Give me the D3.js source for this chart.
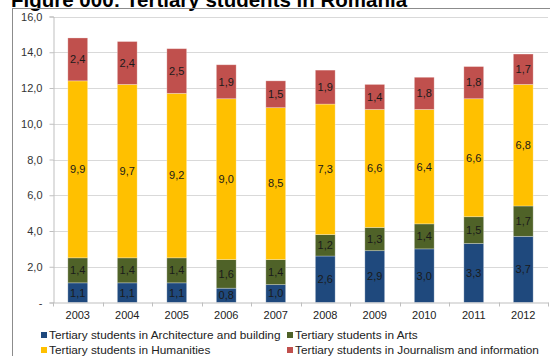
<!DOCTYPE html>
<html>
<head>
<meta charset="utf-8">
<script src="https://cdn.jsdelivr.net/npm/d3@7"></script>
<style>
html,body{margin:0;padding:0;background:#fff;}
svg{display:block;font-family:"Liberation Sans",Arial,sans-serif;}
</style>
</head>
<body>
<svg id="chart" width="550" height="356"></svg>
<script>
const years = ["2003","2004","2005","2006","2007","2008","2009","2010","2011","2012"];
const architecture = [1.1,1.1,1.1,0.8,1.0,2.6,2.9,3.0,3.3,3.7];
const arts = [1.4,1.4,1.4,1.6,1.4,1.2,1.3,1.4,1.5,1.7];
const humanities = [9.9,9.7,9.2,9.0,8.5,7.3,6.6,6.4,6.6,6.8];
const journalism = [2.4,2.4,2.5,1.9,1.5,1.9,1.4,1.8,1.8,1.7];
const seriesNames = ["Tertiary students in Architecture and building","Tertiary students in Arts","Tertiary students in Humanities","Tertiary students in Journalism and information"];
const yTicks = [0,2,4,6,8,10,12,14,16];
const title = "Figure 000: Tertiary students in Romania";

const colors = ["#1F497D","#4F6228","#FFC000","#C0504D"];
const seriesValues = [architecture, arts, humanities, journalism];

const svg = d3.select("#chart");
const fmt = v => v === 0 ? "-" : d3.format(".1f")(v).replace(".", ",");

// title
svg.append("text").attr("x", 11).attr("y", 6.5)
  .attr("font-size", 20.5).attr("font-weight", "bold").attr("fill", "#000")
  .text(title);

// frame
svg.append("rect").attr("x", 12.5).attr("y", 8.5).attr("width", 545).attr("height", 360)
  .attr("fill", "none").attr("stroke", "#8c8c8c").attr("stroke-width", 1);

const x = d3.scaleBand().domain(years).range([53, 548]).paddingInner(0.6).paddingOuter(0.3);
const y = d3.scaleLinear().domain([0, 16]).range([302.5, 16.5]);

// gridlines
svg.append("g").selectAll("line").data(yTicks.filter(d => d > 0)).join("line")
  .attr("x1", 53).attr("x2", 548)
  .attr("y1", d => Math.round(y(d)) + 0.5).attr("y2", d => Math.round(y(d)) + 0.5)
  .attr("stroke", "#d9d9d9").attr("stroke-width", 1);

// y axis
const yAxis = d3.axisLeft(y).tickValues(yTicks).tickFormat(fmt).tickSize(4).tickPadding(7);
const gy = svg.append("g").attr("transform", "translate(53.5,0)").call(yAxis);
gy.select(".domain").attr("stroke", "#bfbfbf");
gy.selectAll(".tick line").attr("stroke", "#bfbfbf");
gy.selectAll(".tick text").attr("font-size", 11).attr("fill", "#333")
  .attr("font-family", "Liberation Sans, Arial, sans-serif");

// stacked data
const table = years.map((yr, i) => {
  const o = {year: yr};
  seriesNames.forEach((s, j) => o[s] = seriesValues[j][i]);
  return o;
});
const stack = d3.stack().keys(seriesNames)(table);

const gBars = svg.append("g");
stack.forEach((layer, j) => {
  const g = gBars.append("g");
  g.selectAll("rect").data(layer).join("rect")
    .attr("x", d => x(d.data.year))
    .attr("width", x.bandwidth())
    .attr("y", d => y(d[1]))
    .attr("height", d => y(d[0]) - y(d[1]))
    .attr("fill", colors[j])
    .attr("stroke", "rgba(255,255,255,0.35)").attr("stroke-width", 0.8);
  g.selectAll("text").data(layer).join("text")
    .attr("x", d => x(d.data.year) + x.bandwidth() / 2)
    .attr("y", d => (y(d[0]) + y(d[1])) / 2)
    .attr("dy", "0.35em")
    .attr("text-anchor", "middle")
    .attr("font-size", 11).attr("fill", "#1a1a1a")
    .text(d => fmt(d[1] - d[0]));
});

// x axis
const xAxis = d3.axisBottom(x).tickSize(0).tickPadding(9);
const gx = svg.append("g").attr("transform", "translate(0,302.5)").call(xAxis);
gx.select(".domain").attr("stroke", "#bfbfbf");
gx.selectAll(".tick text").attr("font-size", 11).attr("fill", "#222")
  .attr("font-family", "Liberation Sans, Arial, sans-serif");
const step = x.step();
const bounds = years.map(d => x(d) - (step - x.bandwidth()) / 2).concat([548]);
gx.selectAll("line.sep").data(bounds).join("line").attr("class", "sep")
  .attr("x1", d => Math.round(d) + 0.5).attr("x2", d => Math.round(d) + 0.5)
  .attr("y1", 0).attr("y2", 4).attr("stroke", "#bfbfbf");

// legend
const legendPos = [[41, 335], [287, 335], [41, 350], [287, 350]];
const lg = svg.append("g").selectAll("g").data(seriesNames).join("g")
  .attr("transform", (d, i) => `translate(${legendPos[i][0]},${legendPos[i][1]})`);
lg.append("rect").attr("x", 0).attr("y", -3).attr("width", 6).attr("height", 6)
  .attr("fill", (d, i) => colors[i]);
lg.append("text").attr("x", 8).attr("y", 0).attr("dy", "0.35em")
  .attr("font-size", 11.8).attr("fill", "#222").text(d => d);
</script>
</body>
</html>
